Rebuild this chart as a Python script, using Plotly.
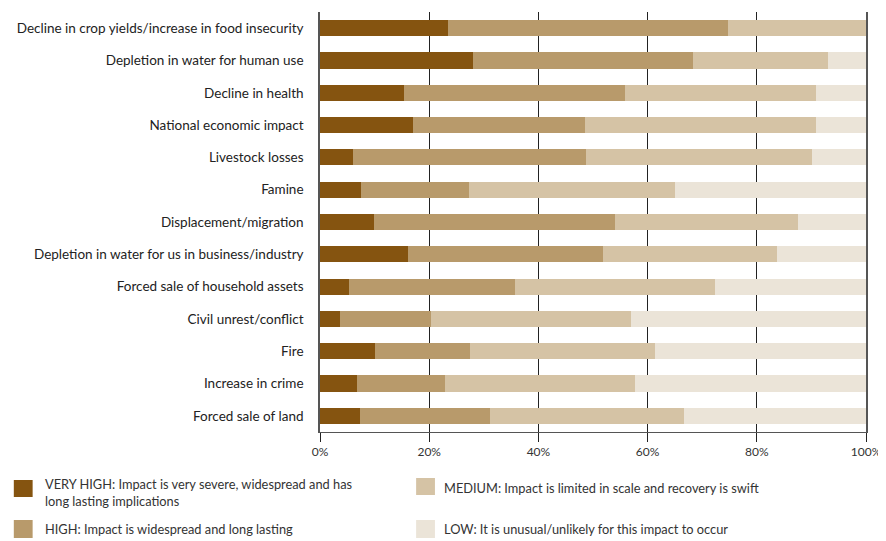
import plotly.graph_objects as go

categories = [
    "Decline in crop yields/increase in food insecurity",
    "Depletion in water for human use",
    "Decline in health",
    "National economic impact",
    "Livestock losses",
    "Famine",
    "Displacement/migration",
    "Depletion in water for us in business/industry",
    "Forced sale of household assets",
    "Civil unrest/conflict",
    "Fire",
    "Increase in crime",
    "Forced sale of land",
]

very_high = [23.4, 28.0, 15.3, 17.1, 6.0, 7.5, 9.8, 16.2, 5.3, 3.6, 10.0, 6.7, 7.4]
high = [51.4, 40.4, 40.6, 31.5, 42.7, 19.8, 44.2, 35.6, 30.4, 16.8, 17.4, 16.2, 23.8]
medium = [25.2, 24.6, 35.0, 42.3, 41.5, 37.7, 33.5, 31.9, 36.7, 36.6, 34.0, 34.7, 35.5]
low = [0.0, 7.0, 9.1, 9.1, 9.8, 35.0, 12.5, 16.3, 27.6, 43.0, 38.6, 42.4, 33.3]

series_names = [
    "VERY HIGH: Impact is very severe, widespread and has<br>long lasting implications",
    "HIGH: Impact is widespread and long lasting",
    "MEDIUM: Impact is limited in scale and recovery is swift",
    "LOW: It is unusual/unlikely for this impact to occur",
]
series_values = [very_high, high, medium, low]
colors = ["#855410", "#b89a6b", "#d5c3a5", "#ebe4d8"]

x_ticks = [0, 20, 40, 60, 80, 100]
x_tick_labels = ["0%", "20%", "40%", "60%", "80%", "100%"]

# the page body keeps its default 8px margin, so the figure is offset by 8px
OFF = 8
W, H = 886 - OFF, 541 - OFF
L, R, T, B = 320 - OFF, 871 - OFF, 12 - OFF, 432 - OFF

fig = go.Figure()
for name, vals, col in zip(series_names, series_values, colors):
    fig.add_trace(go.Bar(
        y=categories, x=vals, name=name, orientation="h",
        marker=dict(color=col, line=dict(width=0)),
        width=0.5, showlegend=False,
    ))

def px_x(p):
    return (p - OFF - L) / (R - L)

def px_y(p):
    return (B - (p - OFF)) / (B - T)

# legend built from shapes + annotations (window pixel coordinates)
legend_pos = [
    (11, 480, 30, 497, 40, 492),
    (11, 520, 30, 538, 40, 529),
    (417, 478, 436, 495, 443, 488),
    (417, 520, 436, 538, 443, 529),
]
for (x0, y0, x1, y1, tx, ty), name, col in zip(legend_pos, series_names, colors):
    fig.add_shape(type="rect", xref="paper", yref="paper",
                  x0=px_x(x0), x1=px_x(x1), y0=px_y(y1), y1=px_y(y0),
                  fillcolor=col, line=dict(width=0))
    fig.add_annotation(xref="paper", yref="paper", x=px_x(tx), y=px_y(ty),
                       text=name, showarrow=False, xanchor="left", yanchor="middle",
                       align="left", font=dict(family="Lato", size=12.8, color="#333333"))

fig.update_layout(
    width=W, height=H,
    margin=dict(l=L, r=W - R, t=T, b=H - B),
    barmode="stack",
    bargap=0.5,
    plot_bgcolor="white",
    paper_bgcolor="white",
    font=dict(family="Lato", color="#333333"),
    xaxis=dict(
        range=[0, 100], tickvals=x_ticks, ticktext=x_tick_labels,
        showgrid=True, gridcolor="#222222", gridwidth=1,
        showline=True, linecolor="#555555", linewidth=1,
        ticks="outside", ticklen=9, tickcolor="#222222",
        tickfont=dict(family="Lato", size=12, color="#333333"),
        ticklabeloverflow="allow",
        zeroline=False, fixedrange=True,
    ),
    yaxis=dict(
        autorange="reversed", showgrid=False,
        showline=True, mirror=True, linecolor="#555555", linewidth=1.5,
        ticks="", ticklabelstandoff=12,
        tickfont=dict(family="Lato", size=13.5, color="#222222"),
    ),
)

fig.write_html("out.html", config={"displayModeBar": False})
